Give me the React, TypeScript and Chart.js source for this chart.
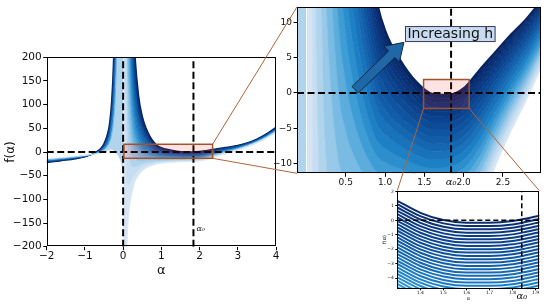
import React, { useEffect, useRef } from "react";
import { Chart, registerables } from "chart.js";

Chart.register(...registerables);

// ---------------- data ----------------
// alpha > 0 branch: sample positions and one curve per h level (light -> dark)
const alphaPos = [0.003, 0.05, 0.1, 0.15, 0.2, 0.25, 0.3, 0.4, 0.5, 0.6, 0.7, 0.8, 0.9, 1.0, 1.2, 1.4, 1.6, 1.8, 2.0, 2.2, 2.4, 2.6, 2.8, 3.0, 3.25, 3.5, 3.75, 4.0];
const hLevelsPos = [0, 0.06, 0.12, 0.18, 0.24, 0.3, 0.36, 0.42, 0.48, 0.54, 0.6, 0.65, 0.7, 0.75, 0.8, 0.84, 0.88, 0.91, 0.94, 0.97, 1.0];
const fPosH000 = [-1000, -400, -200, -130, -100, -80, -65, -50, -40, -34, -30, -27, -25, -23.5, -22, -21, -20.5, -20, -19, -16, -10.5, -5.5, -1, 4, 11, 19, 29, 41];
const fPosH006 = [260, 104, -68, -69.4, -64.6, -56.6, -48.2, -39.8, -33.1, -28.95, -26.2, -24.1, -22.7, -21.55, -20.4, -19.65, -19.28, -18.8, -17.8, -14.85, -9.5, -4.65, -0.3, 4.55, 11.5, 19.5, 29.55, 41.65];
const fPosH012 = [1520, 608, 64, -8.8, -29.2, -33.2, -31.4, -29.6, -26.2, -23.9, -22.4, -21.2, -20.4, -19.6, -18.8, -18.3, -18.05, -17.6, -16.6, -13.7, -8.5, -3.8, 0.4, 5.1, 12.0, 20.0, 30.1, 42.3];
const fPosH018 = [2780, 1112, 196, 51.8, 6.2, -9.8, -14.6, -19.4, -19.3, -18.85, -18.65, -18.35, -18.15, -17.65, -17.2, -16.95, -16.83, -16.45, -15.45, -12.55, -7.55, -3.0, 1.1, 5.7, 12.45, 20.45, 30.65, 42.95];
const fPosH024 = [4040, 1616, 328, 112.4, 41.6, 13.6, 2.2, -9.2, -12.4, -13.8, -14.9, -15.5, -15.9, -15.7, -15.6, -15.6, -15.6, -15.3, -14.3, -11.4, -6.6, -2.2, 1.8, 6.3, 12.9, 20.9, 31.2, 43.6];
const fPosH030 = [5300, 2120, 460, 173, 77, 37, 19, 1.0, -5.5, -8.8, -11.1, -12.6, -13.6, -13.75, -14.0, -14.25, -14.4, -14.1, -13.1, -10.2, -5.6, -1.35, 2.5, 6.85, 13.4, 21.4, 31.7, 44.3];
const fPosH036 = [6560, 2624, 592, 233.6, 112.4, 60.4, 35.8, 11.2, 1.4, -3.8, -7.3, -9.7, -11.3, -11.8, -12.4, -12.9, -13.2, -12.9, -11.9, -9.05, -4.6, -0.5, 3.2, 7.4, 13.9, 21.9, 32.2, 45.0];
const fPosH042 = [7820, 3128, 724, 294.2, 147.8, 83.8, 52.6, 21.4, 8.3, 1.25, -3.55, -6.85, -9.05, -9.85, -10.8, -11.55, -11.95, -11.7, -10.7, -7.88, -3.65, 0.3, 3.9, 8.0, 14.35, 22.35, 32.75, 45.65];
const fPosH048 = [9080, 3632, 856, 354.8, 183.2, 107.2, 69.4, 31.6, 15.2, 6.3, 0.2, -4.0, -6.8, -7.9, -9.2, -10.2, -10.7, -10.5, -9.5, -6.7, -2.7, 1.1, 4.6, 8.6, 14.8, 22.8, 33.3, 46.3];
const fPosH054 = [10340, 4136, 988, 415.4, 218.6, 130.6, 86.2, 41.8, 22.1, 11.35, 4.0, -1.1, -4.5, -5.95, -7.6, -8.8, -9.48, -9.33, -8.35, -5.55, -1.7, 1.95, 5.3, 9.15, 15.3, 23.3, 33.85, 46.95];
const fPosH060 = [11600, 4640, 1120, 476, 254, 154, 103, 52, 29, 16.4, 7.8, 1.8, -2.2, -4.0, -6.0, -7.4, -8.26, -8.15, -7.2, -4.4, -0.7, 2.8, 6.0, 9.7, 15.8, 23.8, 34.4, 47.6];
const fPosH065 = [12650, 5060, 1230, 526.5, 283.5, 173.5, 117, 60.5, 34.75, 20.6, 10.95, 4.2, -0.3, -2.38, -4.7, -6.3, -7.23, -7.18, -6.2, -3.45, 0.1, 3.5, 6.55, 10.2, 16.2, 24.2, 34.85, 48.15];
const fPosH070 = [13700, 5480, 1340, 577, 313, 193, 131, 69, 40.5, 24.8, 14.1, 6.6, 1.6, -0.75, -3.4, -5.2, -6.2, -6.2, -5.2, -2.5, 0.9, 4.2, 7.1, 10.7, 16.6, 24.6, 35.3, 48.7];
const fPosH075 = [14750, 5900, 1450, 627.5, 342.5, 212.5, 145, 77.5, 46.25, 29, 17.25, 9.0, 3.5, 0.88, -2.05, -4.05, -5.2, -5.2, -4.2, -1.53, 1.7, 4.85, 7.7, 11.15, 17.0, 25.0, 35.75, 49.25];
const fPosH080 = [15800, 6320, 1560, 678, 372, 232, 159, 86, 52, 33.2, 20.4, 11.4, 5.4, 2.5, -0.7, -2.9, -4.2, -4.2, -3.2, -0.56, 2.5, 5.5, 8.3, 11.6, 17.4, 25.4, 36.2, 49.8];
const fPosH084 = [16640, 6656, 1648, 718.4, 395.6, 247.6, 170.2, 92.8, 56.6, 36.55, 22.9, 13.3, 6.9, 3.8, 0.35, -2.0, -3.38, -3.4, -2.45, 0.22, 3.15, 6.05, 8.75, 12.0, 17.7, 25.7, 36.55, 50.25];
const fPosH088 = [17480, 6992, 1736, 758.8, 419.2, 263.2, 181.4, 99.6, 61.2, 39.9, 25.4, 15.2, 8.4, 5.1, 1.4, -1.1, -2.55, -2.6, -1.7, 1.0, 3.8, 6.6, 9.2, 12.4, 18.0, 26.0, 36.9, 50.7];
const fPosH091 = [18110, 7244, 1802, 789.1, 436.9, 274.9, 189.8, 104.7, 64.65, 42.45, 27.3, 16.65, 9.55, 6.08, 2.2, -0.43, -1.93, -2.0, -1.1, 1.55, 4.3, 7.05, 9.55, 12.65, 18.25, 26.25, 37.2, 51.0];
const fPosH094 = [18740, 7496, 1868, 819.4, 454.6, 286.6, 198.2, 109.8, 68.1, 45, 29.2, 18.1, 10.7, 7.05, 3.0, 0.24, -1.3, -1.4, -0.5, 2.1, 4.8, 7.5, 9.9, 12.9, 18.5, 26.5, 37.5, 51.3];
const fPosH097 = [19370, 7748, 1934, 849.7, 472.3, 298.3, 206.6, 114.9, 71.55, 47.5, 31.1, 19.55, 11.85, 8.03, 3.8, 0.92, -0.7, -0.83, 0.1, 2.7, 5.3, 7.9, 10.25, 13.2, 18.75, 26.75, 37.75, 51.65];
const fPosH100 = [20000, 8000, 2000, 880, 490, 310, 215, 120, 75, 50, 33, 21, 13, 9, 4.6, 1.6, -0.1, -0.25, 0.7, 3.3, 5.8, 8.3, 10.6, 13.5, 19, 27, 38, 52];
const posCurves = [fPosH000, fPosH006, fPosH012, fPosH018, fPosH024, fPosH030, fPosH036, fPosH042, fPosH048, fPosH054, fPosH060, fPosH065, fPosH070, fPosH075, fPosH080, fPosH084, fPosH088, fPosH091, fPosH094, fPosH097, fPosH100];

// alpha < 0 branch
const alphaNeg = [-2.0, -1.75, -1.5, -1.25, -1.0, -0.8, -0.7, -0.6, -0.5, -0.4, -0.35, -0.3, -0.25, -0.2, -0.15, -0.1, -0.05, -0.003];
const hLevelsNeg = [0, 0.3, 0.55, 0.75, 0.9, 1.0];
const fNegH000 = [-14, -12.5, -11, -9, -7, -5, -4, -2.5, -0.5, 2.5, 4, 4.5, 3, -1, -6, -13, -22, -40];
const fNegH030 = [-16.4, -14.6, -12.8, -10.5, -7.9, -4.85, -2.8, 0.05, 4.75, 13.75, 22.1, 37.1, 66.1, 128.7, 296.6, 956, 6168, 16050];
const fNegH055 = [-18.4, -16.35, -14.3, -11.75, -8.65, -4.7, -1.8, 2.2, 9.1, 23.1, 36.35, 61.35, 110.35, 218.45, 512.1, 1686, 11108, 28175];
const fNegH075 = [-20, -17.75, -15.5, -12.75, -9.25, -4.6, -1, 3.9, 12.6, 30.6, 47.75, 80.75, 145.75, 290.25, 684.5, 2270, 15060, 37875];
const fNegH090 = [-21.2, -18.8, -16.4, -13.5, -9.7, -4.55, -0.4, 5.15, 15.25, 36.25, 56.3, 95.3, 172.3, 344.1, 813.8, 2708, 18024, 45150];
const fNegH100 = [-22, -19.5, -17, -14, -10, -4.5, 0, 6, 17, 40, 62, 105, 190, 380, 900, 3000, 20000, 50000];
const negCurves = [fNegH000, fNegH030, fNegH055, fNegH075, fNegH090, fNegH100];

// close-up (bottom right) curves, top (darkest) first
const alphaZoom = [1.30, 1.40, 1.50, 1.60, 1.70, 1.80, 1.86, 1.92];
const zC00 = [1.35, 0.52, 0.02, -0.16, -0.16, -0.05, 0.13, 0.34];
const zC01 = [1.12, 0.29, -0.21, -0.39, -0.39, -0.28, -0.10, 0.11];
const zC02 = [0.89, 0.06, -0.44, -0.62, -0.62, -0.51, -0.33, -0.12];
const zC03 = [0.66, -0.17, -0.67, -0.85, -0.85, -0.74, -0.56, -0.35];
const zC04 = [0.43, -0.40, -0.90, -1.08, -1.08, -0.97, -0.79, -0.58];
const zC05 = [0.20, -0.63, -1.13, -1.31, -1.31, -1.20, -1.02, -0.81];
const zC06 = [-0.03, -0.86, -1.36, -1.54, -1.54, -1.43, -1.25, -1.04];
const zC07 = [-0.26, -1.09, -1.59, -1.77, -1.77, -1.66, -1.48, -1.27];
const zC08 = [-0.49, -1.32, -1.82, -2.00, -2.00, -1.89, -1.71, -1.50];
const zC09 = [-0.72, -1.55, -2.05, -2.23, -2.23, -2.12, -1.94, -1.73];
const zC10 = [-0.95, -1.78, -2.28, -2.46, -2.46, -2.35, -2.17, -1.96];
const zC11 = [-1.18, -2.01, -2.51, -2.69, -2.69, -2.58, -2.40, -2.19];
const zC12 = [-1.41, -2.24, -2.74, -2.92, -2.92, -2.81, -2.63, -2.42];
const zC13 = [-1.64, -2.47, -2.97, -3.15, -3.15, -3.04, -2.86, -2.65];
const zC14 = [-1.87, -2.70, -3.20, -3.38, -3.38, -3.27, -3.09, -2.88];
const zC15 = [-2.10, -2.93, -3.43, -3.61, -3.61, -3.50, -3.32, -3.11];
const zC16 = [-2.33, -3.16, -3.66, -3.84, -3.84, -3.73, -3.55, -3.34];
const zC17 = [-2.56, -3.39, -3.89, -4.07, -4.07, -3.96, -3.78, -3.57];
const zC18 = [-2.79, -3.62, -4.12, -4.30, -4.30, -4.19, -4.01, -3.80];
const zC19 = [-3.02, -3.85, -4.35, -4.53, -4.53, -4.42, -4.24, -4.03];
const zC20 = [-3.25, -4.08, -4.58, -4.76, -4.76, -4.65, -4.47, -4.26];
const zC21 = [-3.48, -4.31, -4.81, -4.99, -4.99, -4.88, -4.70, -4.49];
const zC22 = [-3.71, -4.54, -5.04, -5.22, -5.22, -5.11, -4.93, -4.72];
const zC23 = [-3.94, -4.77, -5.27, -5.45, -5.45, -5.34, -5.16, -4.95];
const zC24 = [-4.17, -5.00, -5.50, -5.68, -5.68, -5.57, -5.39, -5.18];
const zC25 = [-4.40, -5.23, -5.73, -5.91, -5.91, -5.80, -5.62, -5.41];
const zC26 = [-4.63, -5.46, -5.96, -6.14, -6.14, -6.03, -5.85, -5.64];
const zC27 = [-4.86, -5.69, -6.19, -6.37, -6.37, -6.26, -6.08, -5.87];
const zoomCurves = [zC00, zC01, zC02, zC03, zC04, zC05, zC06, zC07, zC08, zC09, zC10, zC11, zC12, zC13, zC14, zC15, zC16, zC17, zC18, zC19, zC20, zC21, zC22, zC23, zC24, zC25, zC26, zC27];

// ticks
const p1XTicks = [-2, -1, 0, 1, 2, 3, 4];
const p1YTicks = [-200, -150, -100, -50, 0, 50, 100, 150, 200];
const p2XTicks = [0.5, 1.0, 1.5, 2.0, 2.5];
const p2YTicks = [-10, -5, 0, 5, 10];
const p3XTicks = [1.4, 1.5, 1.6, 1.7, 1.8, 1.9];
const p3YTicks = [-4, -3, -2, -1, 0, 1, 2];

const alpha0 = 1.84;
const annotationText = "Increasing h";

// ---------------- styling helpers ----------------
const FONT = "DejaVu Sans";
const SERIF = "DejaVu Serif";
const RECT_EDGE = "#a0522d";
const RECT_FACE = "rgba(255,40,40,0.13)";

const CMAP: [number, number[]][] = [
  [0.0, [221, 233, 246]],
  [0.1, [196, 220, 240]],
  [0.2, [158, 203, 234]],
  [0.3, [106, 180, 224]],
  [0.4, [58, 154, 212]],
  [0.5, [30, 130, 198]],
  [0.6, [22, 108, 182]],
  [0.7, [16, 88, 164]],
  [0.8, [12, 70, 146]],
  [0.9, [9, 53, 124]],
  [1.0, [7, 36, 96]],
];
function cmap(t: number): string {
  const v = Math.max(0, Math.min(1, t));
  for (let i = 1; i < CMAP.length; i++) {
    if (v <= CMAP[i][0]) {
      const [t0, c0] = CMAP[i - 1];
      const [t1, c1] = CMAP[i];
      const f = (v - t0) / (t1 - t0);
      const c = c0.map((a, k) => Math.round(a + (c1[k] - a) * f));
      return `rgb(${c[0]},${c[1]},${c[2]})`;
    }
  }
  const c = CMAP[CMAP.length - 1][1];
  return `rgb(${c[0]},${c[1]},${c[2]})`;
}

const pts = (xs: number[], ys: number[]) => xs.map((x, i) => ({ x, y: ys[i] }));

function familyDatasets(xs: number[], curves: number[][], levels: number[]) {
  return curves.map((ys, i) => ({
    data: pts(xs, ys),
    borderColor: i === curves.length - 1 ? cmap(1.05) : cmap(levels[i]),
    borderWidth: i === curves.length - 1 ? 1.6 : 1,
    backgroundColor: i === 0 ? "rgba(0,0,0,0)" : cmap((levels[i - 1] + levels[i]) / 2),
    fill: i === 0 ? false : "-1",
    pointRadius: 0,
    cubicInterpolationMode: "monotone" as const,
  }));
}

const fmtNum = (dec: number) => (v: number) => {
  const s = Math.abs(v).toFixed(dec);
  return v < 0 ? "\u2212" + s : s;
};

function axis(o: {
  min: number; max: number; ticks: number[]; fmt: (v: number) => string; size: number;
  horizontal: boolean; box: number; tickLen: number; pad: number;
  title?: string; titleSize?: number; titlePad?: number;
}) {
  return {
    type: "linear" as const,
    min: o.min,
    max: o.max,
    afterBuildTicks: (s: any) => { s.ticks = o.ticks.map((v) => ({ value: v })); },
    afterFit: (s: any) => { if (o.horizontal) s.height = o.box; else s.width = o.box; },
    ticks: {
      callback: (v: any) => o.fmt(Number(v)),
      font: { family: FONT, size: o.size },
      color: "#111",
      padding: o.pad,
      maxRotation: 0,
      minRotation: 0,
      autoSkip: false,
    },
    grid: { drawOnChartArea: false, drawTicks: true, tickLength: o.tickLen, tickColor: "#000", tickWidth: 1 },
    border: { display: false },
    title: o.title
      ? { display: true, text: o.title, color: "#111", font: { family: FONT, size: o.titleSize }, padding: { top: o.titlePad, bottom: o.titlePad } }
      : { display: false },
  };
}

const framePlugin = {
  id: "frame",
  afterDraw(chart: any) {
    const { ctx, chartArea: a } = chart;
    ctx.save();
    ctx.strokeStyle = "#000";
    ctx.lineWidth = 1;
    ctx.strokeRect(Math.round(a.left) + 0.5, Math.round(a.top) + 0.5, Math.round(a.right - a.left) - 1, Math.round(a.bottom - a.top) - 1);
    ctx.restore();
  },
};

type Deco = {
  dash: number[]; lw: number; hLines: number[]; vLines: number[];
  rects: { x0: number; x1: number; y0: number; y1: number }[];
  texts: { x: number; y?: number; dy?: number; dx?: number; text: string; font: string; align: CanvasTextAlign }[];
};
function decoPlugin(id: string, cfg: Deco) {
  return {
    id,
    afterDatasetsDraw(chart: any) {
      const { ctx, chartArea: a, scales } = chart;
      const xs = scales.x, ys = scales.y;
      ctx.save();
      ctx.beginPath();
      ctx.rect(a.left, a.top, a.right - a.left, a.bottom - a.top);
      ctx.clip();
      ctx.strokeStyle = "#000";
      ctx.lineWidth = cfg.lw;
      ctx.setLineDash(cfg.dash);
      for (const y of cfg.hLines) {
        const py = ys.getPixelForValue(y);
        ctx.beginPath(); ctx.moveTo(a.left, py); ctx.lineTo(a.right, py); ctx.stroke();
      }
      for (const x of cfg.vLines) {
        const px = xs.getPixelForValue(x);
        ctx.beginPath(); ctx.moveTo(px, a.bottom); ctx.lineTo(px, a.top); ctx.stroke();
      }
      ctx.setLineDash([]);
      for (const r of cfg.rects) {
        const x0 = xs.getPixelForValue(r.x0), x1 = xs.getPixelForValue(r.x1);
        const y0 = ys.getPixelForValue(r.y1), y1 = ys.getPixelForValue(r.y0);
        ctx.fillStyle = RECT_FACE;
        ctx.fillRect(x0, y0, x1 - x0, y1 - y0);
        ctx.strokeStyle = RECT_EDGE;
        ctx.lineWidth = 1.5;
        ctx.strokeRect(x0, y0, x1 - x0, y1 - y0);
      }
      ctx.restore();
      ctx.save();
      for (const t of cfg.texts) {
        const px = xs.getPixelForValue(t.x) + (t.dx || 0);
        const py = t.y !== undefined ? ys.getPixelForValue(t.y) : a.bottom + (t.dy || 0);
        ctx.font = t.font;
        ctx.fillStyle = "#111";
        ctx.textAlign = t.align;
        ctx.textBaseline = "middle";
        ctx.fillText(t.text, px, py);
      }
      ctx.restore();
    },
  };
}

const annotationPlugin = {
  id: "increasingH",
  afterDatasetsDraw(chart: any) {
    const { ctx, scales } = chart;
    const xs = scales.x, ys = scales.y;
    // block arrow
    const tx = xs.getPixelForValue(0.62), ty = ys.getPixelForValue(0.45);
    const px = xs.getPixelForValue(1.24), py = ys.getPixelForValue(7.17);
    const dx = px - tx, dy = py - ty;
    const len = Math.hypot(dx, dy);
    const ux = dx / len, uy = dy / len;
    const nx = -uy, ny = ux;
    const sw = 4.5, hw = 11, hl = 17;
    const hx = px - ux * hl, hy = py - uy * hl;
    ctx.save();
    ctx.beginPath();
    ctx.moveTo(tx + nx * sw, ty + ny * sw);
    ctx.lineTo(hx + nx * sw, hy + ny * sw);
    ctx.lineTo(hx + nx * hw, hy + ny * hw);
    ctx.lineTo(px, py);
    ctx.lineTo(hx - nx * hw, hy - ny * hw);
    ctx.lineTo(hx - nx * sw, hy - ny * sw);
    ctx.lineTo(tx - nx * sw, ty - ny * sw);
    ctx.closePath();
    ctx.fillStyle = "#1f67a6";
    ctx.fill();
    ctx.strokeStyle = "#13283f";
    ctx.lineWidth = 1;
    ctx.stroke();
    // label box
    ctx.font = `14px "${FONT}"`;
    const cx = xs.getPixelForValue(1.83), cy = ys.getPixelForValue(8.35);
    const w = ctx.measureText(annotationText).width;
    const bw = w + 4, bh = 15;
    ctx.fillStyle = "#c9dbf0";
    ctx.fillRect(cx - bw / 2, cy - bh / 2, bw, bh);
    ctx.strokeStyle = "#3a3a5a";
    ctx.strokeRect(cx - bw / 2, cy - bh / 2, bw, bh);
    ctx.fillStyle = "#111";
    ctx.textAlign = "center";
    ctx.textBaseline = "middle";
    ctx.fillText(annotationText, cx, cy + 0.5);
    ctx.restore();
  },
};

const baseOptions = {
  animation: false as const,
  responsive: false,
  maintainAspectRatio: false,
  events: [] as any[],
  plugins: { legend: { display: false }, tooltip: { enabled: false }, filler: { propagate: false } },
};

const P1 = { left: 0, top: 40, w: 290, h: 240 };
const P2 = { left: 270, top: 0, w: 280, h: 195 };
const P3 = { left: 380, top: 185, w: 170, h: 122 };

const zoomBox1 = { x0: 0.02, x1: 2.34, y0: -13.3, y1: 16.3 };
const zoomBox2 = { x0: 1.49, x1: 2.07, y0: -2.2, y1: 1.9 };

export default function App() {
  const r1 = useRef<HTMLCanvasElement>(null);
  const r2 = useRef<HTMLCanvasElement>(null);
  const r3 = useRef<HTMLCanvasElement>(null);
  const ro = useRef<HTMLCanvasElement>(null);

  useEffect(() => {
    Chart.defaults.font.family = FONT;

    const family = () => [
      ...familyDatasets(alphaPos, posCurves, hLevelsPos),
      ...familyDatasets(alphaNeg, negCurves, hLevelsNeg),
    ];

    const ch1 = new Chart(r1.current as HTMLCanvasElement, {
      type: "line",
      data: { datasets: family() as any },
      options: {
        ...baseOptions,
        layout: { padding: { top: 17.3, right: 14, left: 0, bottom: 0 } },
        scales: {
          x: axis({ min: -2, max: 4, ticks: p1XTicks, fmt: fmtNum(0), size: 10.5, horizontal: true, box: 33.3, tickLen: 3.5, pad: 0, title: "α", titleSize: 13, titlePad: 2 }),
          y: axis({ min: -200, max: 200, ticks: p1YTicks, fmt: fmtNum(0), size: 10.5, horizontal: false, box: 46.7, tickLen: 3.5, pad: 1.5, title: "f(α)", titleSize: 12, titlePad: 4 }),
        },
      } as any,
      plugins: [
        decoPlugin("p1deco", {
          dash: [7, 3.5], lw: 2, hLines: [0], vLines: [0, alpha0], rects: [zoomBox1],
          texts: [{ x: alpha0, y: -163, dx: 3, text: "α₀", font: `italic 8px "${SERIF}"`, align: "left" }],
        }),
        framePlugin,
      ],
    });

    const ch2 = new Chart(r2.current as HTMLCanvasElement, {
      type: "line",
      data: { datasets: family() as any },
      options: {
        ...baseOptions,
        layout: { padding: { top: 6, right: 9.3, left: 0, bottom: 0 } },
        scales: {
          x: axis({ min: -0.12, max: 2.98, ticks: p2XTicks, fmt: fmtNum(1), size: 9, horizontal: true, box: 21.7, tickLen: 3.5, pad: 0.5 }),
          y: axis({ min: -11.4, max: 12.2, ticks: p2YTicks, fmt: fmtNum(0), size: 9, horizontal: false, box: 27, tickLen: 3.5, pad: 1.5 }),
        },
      } as any,
      plugins: [
        decoPlugin("p2deco", {
          dash: [7, 3.5], lw: 2, hLines: [0], vLines: [alpha0], rects: [zoomBox2],
          texts: [{ x: alpha0, dy: 9.5, text: "α₀", font: `italic 10px "${SERIF}"`, align: "center" }],
        }),
        annotationPlugin,
        framePlugin,
      ],
    });

    const zoomSets = zoomCurves.map((ys, k) => ({
      data: pts(alphaZoom, ys),
      borderColor: cmap(0.95 - 0.022 * k),
      borderWidth: 2,
      fill: false,
      pointRadius: 0,
      cubicInterpolationMode: "monotone" as const,
    }));

    const ch3 = new Chart(r3.current as HTMLCanvasElement, {
      type: "line",
      data: { datasets: zoomSets as any },
      options: {
        ...baseOptions,
        layout: { padding: { top: 5.7, right: 10.7, left: 0, bottom: 0 } },
        scales: {
          x: axis({ min: 1.3, max: 1.916, ticks: p3XTicks, fmt: fmtNum(1), size: 4.5, horizontal: true, box: 18.7, tickLen: 2, pad: 0, title: "α", titleSize: 5, titlePad: 5 }),
          y: axis({ min: -4.7, max: 2.05, ticks: p3YTicks, fmt: fmtNum(0), size: 4.5, horizontal: false, box: 17.3, tickLen: 2, pad: 1.5, title: "f(α)", titleSize: 5, titlePad: 2 }),
        },
      } as any,
      plugins: [
        decoPlugin("p3deco", {
          dash: [5, 3], lw: 1.5, hLines: [0], vLines: [alpha0], rects: [],
          texts: [{ x: alpha0, dy: 8.4, text: "α₀", font: `italic 10px "${SERIF}"`, align: "center" }],
        }),
        framePlugin,
      ],
    });

    // connector lines between panels
    const ov = ro.current as HTMLCanvasElement;
    const octx = ov.getContext("2d") as CanvasRenderingContext2D;
    octx.clearRect(0, 0, ov.width, ov.height);
    const s1x = (ch1.scales as any).x, s1y = (ch1.scales as any).y;
    const s2x = (ch2.scales as any).x, s2y = (ch2.scales as any).y;
    const a2 = ch2.chartArea, a3 = ch3.chartArea;
    const b1r = P1.left + s1x.getPixelForValue(zoomBox1.x1);
    const b1t = P1.top + s1y.getPixelForValue(zoomBox1.y1);
    const b1b = P1.top + s1y.getPixelForValue(zoomBox1.y0);
    const b2l = P2.left + s2x.getPixelForValue(zoomBox2.x0);
    const b2r = P2.left + s2x.getPixelForValue(zoomBox2.x1);
    const b2b = P2.top + s2y.getPixelForValue(zoomBox2.y0);
    const lines: number[][] = [
      [b1r, b1t, P2.left + a2.left, P2.top + a2.top],
      [b1r, b1b, P2.left + a2.left, P2.top + a2.bottom],
      [b2l, b2b, P3.left + a3.left, P3.top + a3.top],
      [b2r, b2b, P3.left + a3.right, P3.top + a3.top],
    ];
    octx.strokeStyle = "#b0643a";
    octx.lineWidth = 1;
    for (const [x0, y0, x1, y1] of lines) {
      octx.beginPath(); octx.moveTo(x0, y0); octx.lineTo(x1, y1); octx.stroke();
    }

    return () => {
      ch1.destroy();
      ch2.destroy();
      ch3.destroy();
    };
  }, []);

  const abs = (p: { left: number; top: number }) => ({ position: "absolute" as const, left: p.left, top: p.top });
  return (
    <div style={{ position: "absolute", left: 0, top: 0, width: 550, height: 307, background: "#fff", overflow: "hidden" }}>
      <canvas ref={r1} width={P1.w} height={P1.h} style={abs(P1)} />
      <canvas ref={r2} width={P2.w} height={P2.h} style={abs(P2)} />
      <canvas ref={r3} width={P3.w} height={P3.h} style={abs(P3)} />
      <canvas ref={ro} width={550} height={307} style={{ position: "absolute", left: 0, top: 0, pointerEvents: "none" }} />
    </div>
  );
}
